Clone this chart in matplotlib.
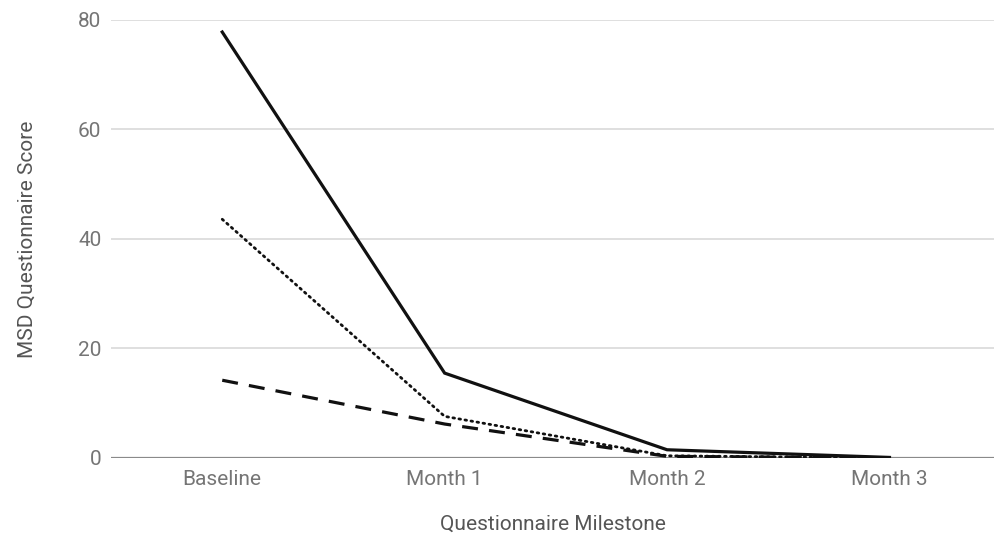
import matplotlib
matplotlib.use("Agg")
import matplotlib.pyplot as plt

categories = ["Baseline", "Month 1", "Month 2", "Month 3"]
solid_series = [77.8, 15.5, 1.5, 0.1]
dotted_series = [43.6, 7.6, 0.4, 0.0]
dashed_series = [14.2, 6.2, 0.3, 0.0]
y_ticks = [0, 20, 40, 60, 80]

plt.rcParams['font.family'] = ['Roboto', 'DejaVu Sans']

fig = plt.figure(figsize=(9.94, 5.40), dpi=100)
ax = fig.add_axes([0.1117, 0.1519, 0.8883, 0.8111])

x = list(range(len(categories)))
ax.plot(x, solid_series, color='#111111', lw=2.3, ls='-', solid_joinstyle='miter', zorder=3)
ax.plot(x, dotted_series, color='#111111', lw=2.0, ls=(0, (0.6, 1.6)), dash_capstyle='round', zorder=3)
ax.plot(x, dashed_series, color='#111111', lw=2.3, ls=(0, (5, 3.5)), zorder=3)

ax.set_xlim(-0.5, 3.47)
ax.set_ylim(0, 80)
ax.set_yticks(y_ticks)
ax.set_xticks(x)
ax.set_xticklabels(categories)
ax.grid(axis='y', color='#d9d9d9', lw=1.2)
ax.axhline(0, color='#8a8a8a', lw=1.6, zorder=2)
for s in ax.spines.values():
    s.set_visible(False)
ax.tick_params(axis='both', length=0, colors='#757575', labelsize=15)
ax.tick_params(axis='y', pad=7)
ax.tick_params(axis='x', pad=9)
ax.set_ylabel("MSD Questionnaire Score", color='#555555', fontsize=15, labelpad=30)
ax.set_xlabel("Questionnaire Milestone", color='#555555', fontsize=15, labelpad=18)

fig.savefig("out.png", dpi=100)
